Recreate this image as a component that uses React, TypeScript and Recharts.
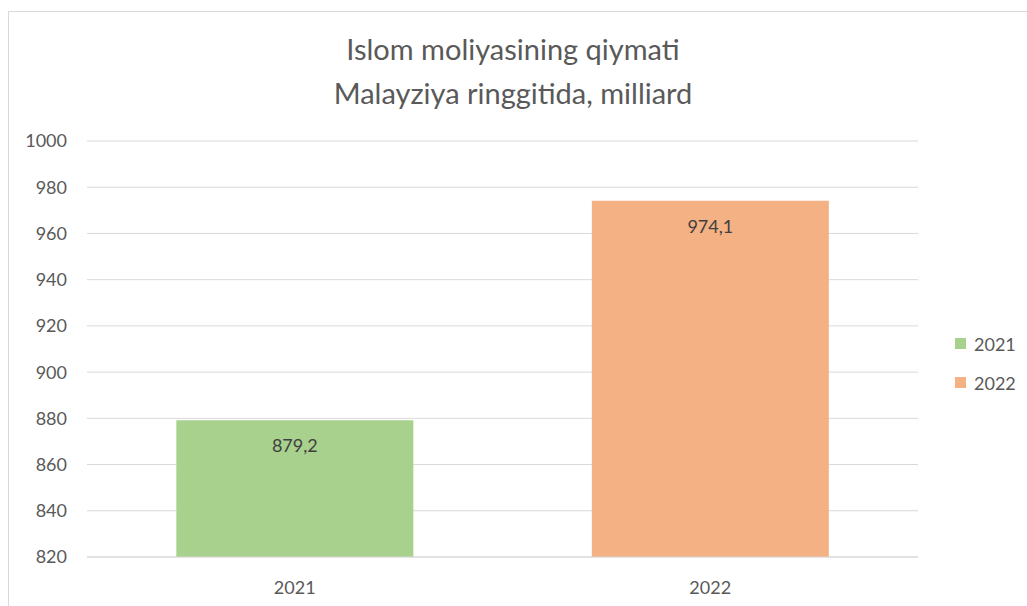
import { BarChart, Bar, Cell, XAxis, YAxis, CartesianGrid, LabelList } from "recharts";

const years = ["2021", "2022"];
const values = [879.2, 974.1];
const colors = ["#a9d18e", "#f4b183"];
const yTicks = [820, 840, 860, 880, 900, 920, 940, 960, 980, 1000];
const titleLines = ["Islom moliyasining qiymati", "Malayziya ringgitida, milliard"];

const data = years.map((year, i) => ({ year, value: values[i] }));

const FONT = "Lato, 'Open Sans', sans-serif";
const TEXT = "#595959";

export default function App() {
  return (
    <div
      style={{
        position: "absolute",
        left: 8,
        top: 11,
        width: 1019,
        height: 595,
        borderTop: "1px solid #d9d9d9",
        borderLeft: "1px solid #d9d9d9",
        boxSizing: "border-box",
        overflow: "hidden",
        background: "#fff",
        fontFamily: FONT,
      }}
    >
      {/* Title */}
      <div
        style={{
          position: "absolute",
          left: 0,
          top: 15,
          width: 1008,
          textAlign: "center",
          fontSize: 29,
          lineHeight: "44px",
          color: TEXT,
        }}
      >
        {titleLines.map((t) => (
          <div key={t}>{t}</div>
        ))}
      </div>

      <BarChart
        width={1018}
        height={594}
        data={data}
        margin={{ top: 129, right: 109, bottom: 19, left: 0 }}
        barCategoryGap="21.5%"
        style={{ fontFamily: FONT }}
      >
        <CartesianGrid vertical={false} stroke="#d9d9d9" strokeWidth={1} />
        <XAxis
          dataKey="year"
          axisLine={{ stroke: "#d9d9d9" }}
          tickLine={false}
          tickSize={0}
          tickMargin={24}
          height={30}
          tick={{ fill: TEXT, fontSize: 18 }}
        />
        <YAxis
          domain={[820, 1000]}
          ticks={yTicks}
          width={78}
          axisLine={false}
          tickLine={false}
          tickSize={0}
          tickMargin={20}
          tick={{ fill: TEXT, fontSize: 18 }}
        />
        <Bar dataKey="value" isAnimationActive={false}>
          {data.map((d, i) => (
            <Cell key={d.year} fill={colors[i]} />
          ))}
          <LabelList
            dataKey="value"
            position="insideTop"
            offset={19}
            fill="#404040"
            fontSize={18}
            formatter={(v: any) => String(v).replace(".", ",")}
          />
        </Bar>
      </BarChart>

      {/* Legend */}
      <div style={{ position: "absolute", left: 946, top: 312 }}>
        {years.map((y, i) => (
          <div
            key={y}
            style={{ display: "flex", alignItems: "center", height: 39, color: TEXT, fontSize: 18 }}
          >
            <span style={{ width: 11, height: 11, background: colors[i], marginRight: 8, display: "inline-block" }} />
            <span>{y}</span>
          </div>
        ))}
      </div>
    </div>
  );
}
